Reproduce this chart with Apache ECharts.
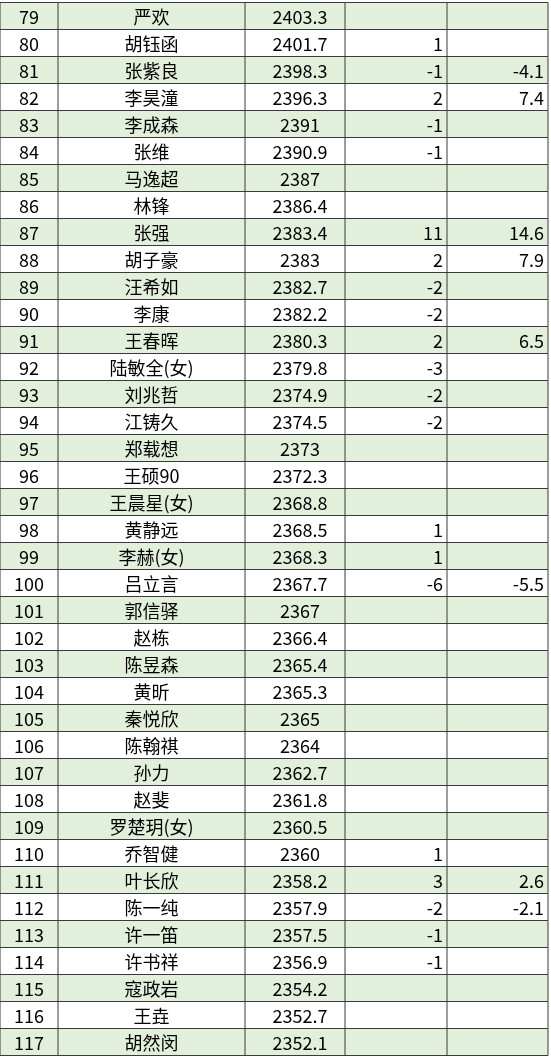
<!DOCTYPE html>
<html><head><meta charset="utf-8">
<script src="https://cdn.jsdelivr.net/npm/echarts@6/dist/echarts.min.js"></script>
<style>html,body{margin:0;padding:0;background:#fff}#c{width:551px;height:1059px}</style>
</head><body><div id="c"></div>
<script>
const ranks=[79,80,81,82,83,84,85,86,87,88,89,90,91,92,93,94,95,96,97,98,99,100,101,102,103,104,105,106,107,108,109,110,111,112,113,114,115,116,117];
const names=['严欢','胡钰函','张紫良','李昊潼','李成森','张维','马逸超','林锋','张强','胡子豪','汪希如','李康','王春晖','陆敏全(女)','刘兆哲','江铸久','郑载想','王硕90','王晨星(女)','黄静远','李赫(女)','吕立言','郭信驿','赵栋','陈昱森','黄昕','秦悦欣','陈翰祺','孙力','赵斐','罗楚玥(女)','乔智健','叶长欣','陈一纯','许一笛','许书祥','寇政岩','王垚','胡然闵'];
const scores=['2403.3','2401.7','2398.3','2396.3','2391','2390.9','2387','2386.4','2383.4','2383','2382.7','2382.2','2380.3','2379.8','2374.9','2374.5','2373','2372.3','2368.8','2368.5','2368.3','2367.7','2367','2366.4','2365.4','2365.3','2365','2364','2362.7','2361.8','2360.5','2360','2358.2','2357.9','2357.5','2356.9','2354.2','2352.7','2352.1'];
const rankChange=['','1','-1','2','-1','-1','','','11','2','-2','-2','2','-3','-2','-2','','','','1','1','-6','','','','','','','','','','1','3','-2','-1','-1','','',''];
const scoreChange=['','','-4.1','7.4','','','','','14.6','7.9','','','6.5','','','','','','','','','-5.5','','','','','','','','','','','2.6','-2.1','','','','',''];
const colEdges=[0,58,245,345,447,548];
const chart=echarts.init(document.getElementById('c'));
const font='"Noto Sans CJK SC", sans-serif';
chart.setOption({
  animation:false,
  grid:{left:0,right:3,top:2.5,bottom:3.5},
  xAxis:{type:'value',min:0,max:548,show:false},
  yAxis:{type:'category',inverse:true,data:ranks.map(String),show:false},
  series:[{type:'custom',data:ranks.map((r,i)=>[i]),
    renderItem:function(params,api){
      const i=api.value(0);
      const yc=api.coord([0,i])[1];
      const h=api.size([0,1])[1];
      const x=c=>api.coord([colEdges[c],i])[0];
      const top=yc-h/2;
      const ch=[];
      ch.push({type:'rect',shape:{x:x(0),y:top,width:x(5)-x(0),height:h},style:{fill:ranks[i]%2?'#E2EFDA':'#ffffff',stroke:'#3a3a3a',lineWidth:1}});
      for(let c=1;c<5;c++) ch.push({type:'line',shape:{x1:x(c),y1:top,x2:x(c),y2:top+h},style:{stroke:'#3a3a3a',lineWidth:1}});
      const txt=(t,px,align)=>({type:'text',style:{text:t,x:px,y:yc+1,align:align,verticalAlign:'middle',font:'18px '+font,fill:'#000'}});
      ch.push(txt(String(ranks[i]),(x(0)+x(1))/2,'center'));
      ch.push(txt(names[i],(x(1)+x(2))/2,'center'));
      ch.push(txt(scores[i],(x(2)+x(3))/2+5,'center'));
      ch.push(txt(rankChange[i],x(4)-4,'right'));
      ch.push(txt(scoreChange[i],x(5)-4,'right'));
      return {type:'group',children:ch};
    }}]
});
</script></body></html>
